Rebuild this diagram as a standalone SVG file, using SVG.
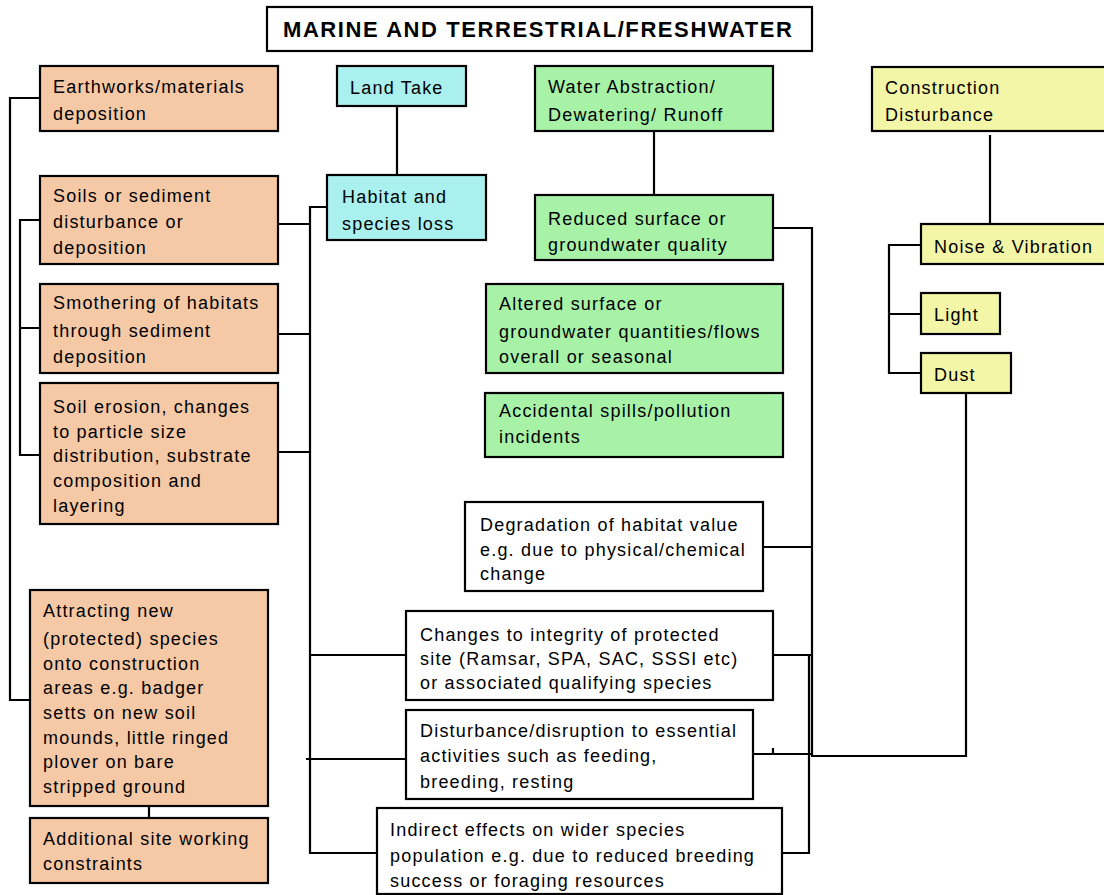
<svg xmlns="http://www.w3.org/2000/svg" width="1104" height="895" viewBox="0 0 1104 895">
<style>
text{font-family:"Liberation Sans",Arial,sans-serif;font-size:18px;letter-spacing:1.2px;fill:#000}
.t{font-weight:bold;font-size:22px;letter-spacing:0}
rect{stroke:#000;stroke-width:2.2}
.o{fill:#F5C9A6}.c{fill:#AAF0EE}.g{fill:#A8F2A8}.y{fill:#F3F6A6}.w{fill:#fff}
#connectors path{fill:none;stroke:#000;stroke-width:2.2}
</style>
<g id="connectors">
<path d="M40,98H10V700H30"/>
<path d="M40,220H20V455H40M20,328H40"/>
<path d="M278,224H310M278,334H310M278,452H310"/>
<path d="M327,207H310V853H377M310,655H406M306,759H406"/>
<path d="M397,106V175"/>
<path d="M149,806V818"/>
<path d="M654,131V195"/>
<path d="M773,228H812V756H966V393"/>
<path d="M763,547H812M773,655H812M753,754H812M773,748V755"/>
<path d="M809,655V853H782"/>
<path d="M990,135V224"/>
<path d="M921,245H889V373H921M889,314H921"/>
</g>
<g id="title"><rect class="w" x="267" y="7" width="545" height="44"/><text class="t" x="283" y="37" textLength="509" lengthAdjust="spacing">MARINE AND TERRESTRIAL/FRESHWATER</text></g>
<g id="earthworks"><rect class="o" x="40" y="66" width="238" height="65"/><text x="53" y="93">Earthworks/materials</text><text x="53" y="120">deposition</text></g>
<g id="landtake"><rect class="c" x="337" y="66" width="129" height="40"/><text x="350" y="94">Land Take</text></g>
<g id="water"><rect class="g" x="535" y="66" width="238" height="65"/><text x="548" y="93">Water Abstraction/</text><text x="548" y="121">Dewatering/ Runoff</text></g>
<g id="construction"><rect class="y" x="872" y="67" width="240" height="64"/><text x="885" y="94">Construction</text><text x="885" y="121">Disturbance</text></g>
<g id="soils"><rect class="o" x="40" y="176" width="238" height="88"/><text x="53" y="202">Soils or sediment</text><text x="53" y="228">disturbance or</text><text x="53" y="254">deposition</text></g>
<g id="habitat"><rect class="c" x="327" y="175" width="159" height="65"/><text x="342" y="203">Habitat and</text><text x="342" y="230">species loss</text></g>
<g id="reduced"><rect class="g" x="535" y="195" width="238" height="65"/><text x="548" y="225">Reduced surface or</text><text x="548" y="251">groundwater quality</text></g>
<g id="noise"><rect class="y" x="921" y="224" width="190" height="40"/><text x="934" y="253">Noise &amp; Vibration</text></g>
<g id="smothering"><rect class="o" x="40" y="284" width="238" height="89"/><text x="53" y="309">Smothering of habitats</text><text x="53" y="337">through sediment</text><text x="53" y="363">deposition</text></g>
<g id="altered"><rect class="g" x="486" y="284" width="297" height="89"/><text x="499" y="310">Altered surface or</text><text x="499" y="338">groundwater quantities/flows</text><text x="499" y="363">overall or seasonal</text></g>
<g id="light"><rect class="y" x="921" y="293" width="79" height="41"/><text x="934" y="321">Light</text></g>
<g id="dust"><rect class="y" x="921" y="353" width="90" height="40"/><text x="934" y="381">Dust</text></g>
<g id="erosion"><rect class="o" x="40" y="383" width="238" height="141"/><text x="53" y="413">Soil erosion, changes</text><text x="53" y="438">to particle size</text><text x="53" y="462">distribution, substrate</text><text x="53" y="487">composition and</text><text x="53" y="512">layering</text></g>
<g id="accidental"><rect class="g" x="485" y="393" width="298" height="64"/><text x="499" y="417">Accidental spills/pollution</text><text x="499" y="443">incidents</text></g>
<g id="degradation"><rect class="w" x="465" y="502" width="298" height="89"/><text x="480" y="531">Degradation of habitat value</text><text x="480" y="556">e.g. due to physical/chemical</text><text x="480" y="580">change</text></g>
<g id="attracting"><rect class="o" x="30" y="590" width="238" height="216"/><text x="43" y="617">Attracting new</text><text x="43" y="645">(protected) species</text><text x="43" y="670">onto construction</text><text x="43" y="694">areas e.g. badger</text><text x="43" y="719">setts on new soil</text><text x="43" y="744">mounds, little ringed</text><text x="43" y="768">plover on bare</text><text x="43" y="793">stripped ground</text></g>
<g id="changes"><rect class="w" x="406" y="611" width="367" height="89"/><text x="420" y="641">Changes to integrity of protected</text><text x="420" y="665">site (Ramsar, SPA, SAC, SSSI etc)</text><text x="420" y="689">or associated qualifying species</text></g>
<g id="disturbance"><rect class="w" x="406" y="710" width="347" height="89"/><text x="420" y="737">Disturbance/disruption to essential</text><text x="420" y="762">activities such as feeding,</text><text x="420" y="788">breeding, resting</text></g>
<g id="indirect"><rect class="w" x="377" y="808" width="405" height="86"/><text x="390" y="836">Indirect effects on wider species</text><text x="390" y="862">population e.g. due to reduced breeding</text><text x="390" y="887">success or foraging resources</text></g>
<g id="additional"><rect class="o" x="30" y="818" width="238" height="65"/><text x="43" y="845">Additional site working</text><text x="43" y="870">constraints</text></g>
</svg>
